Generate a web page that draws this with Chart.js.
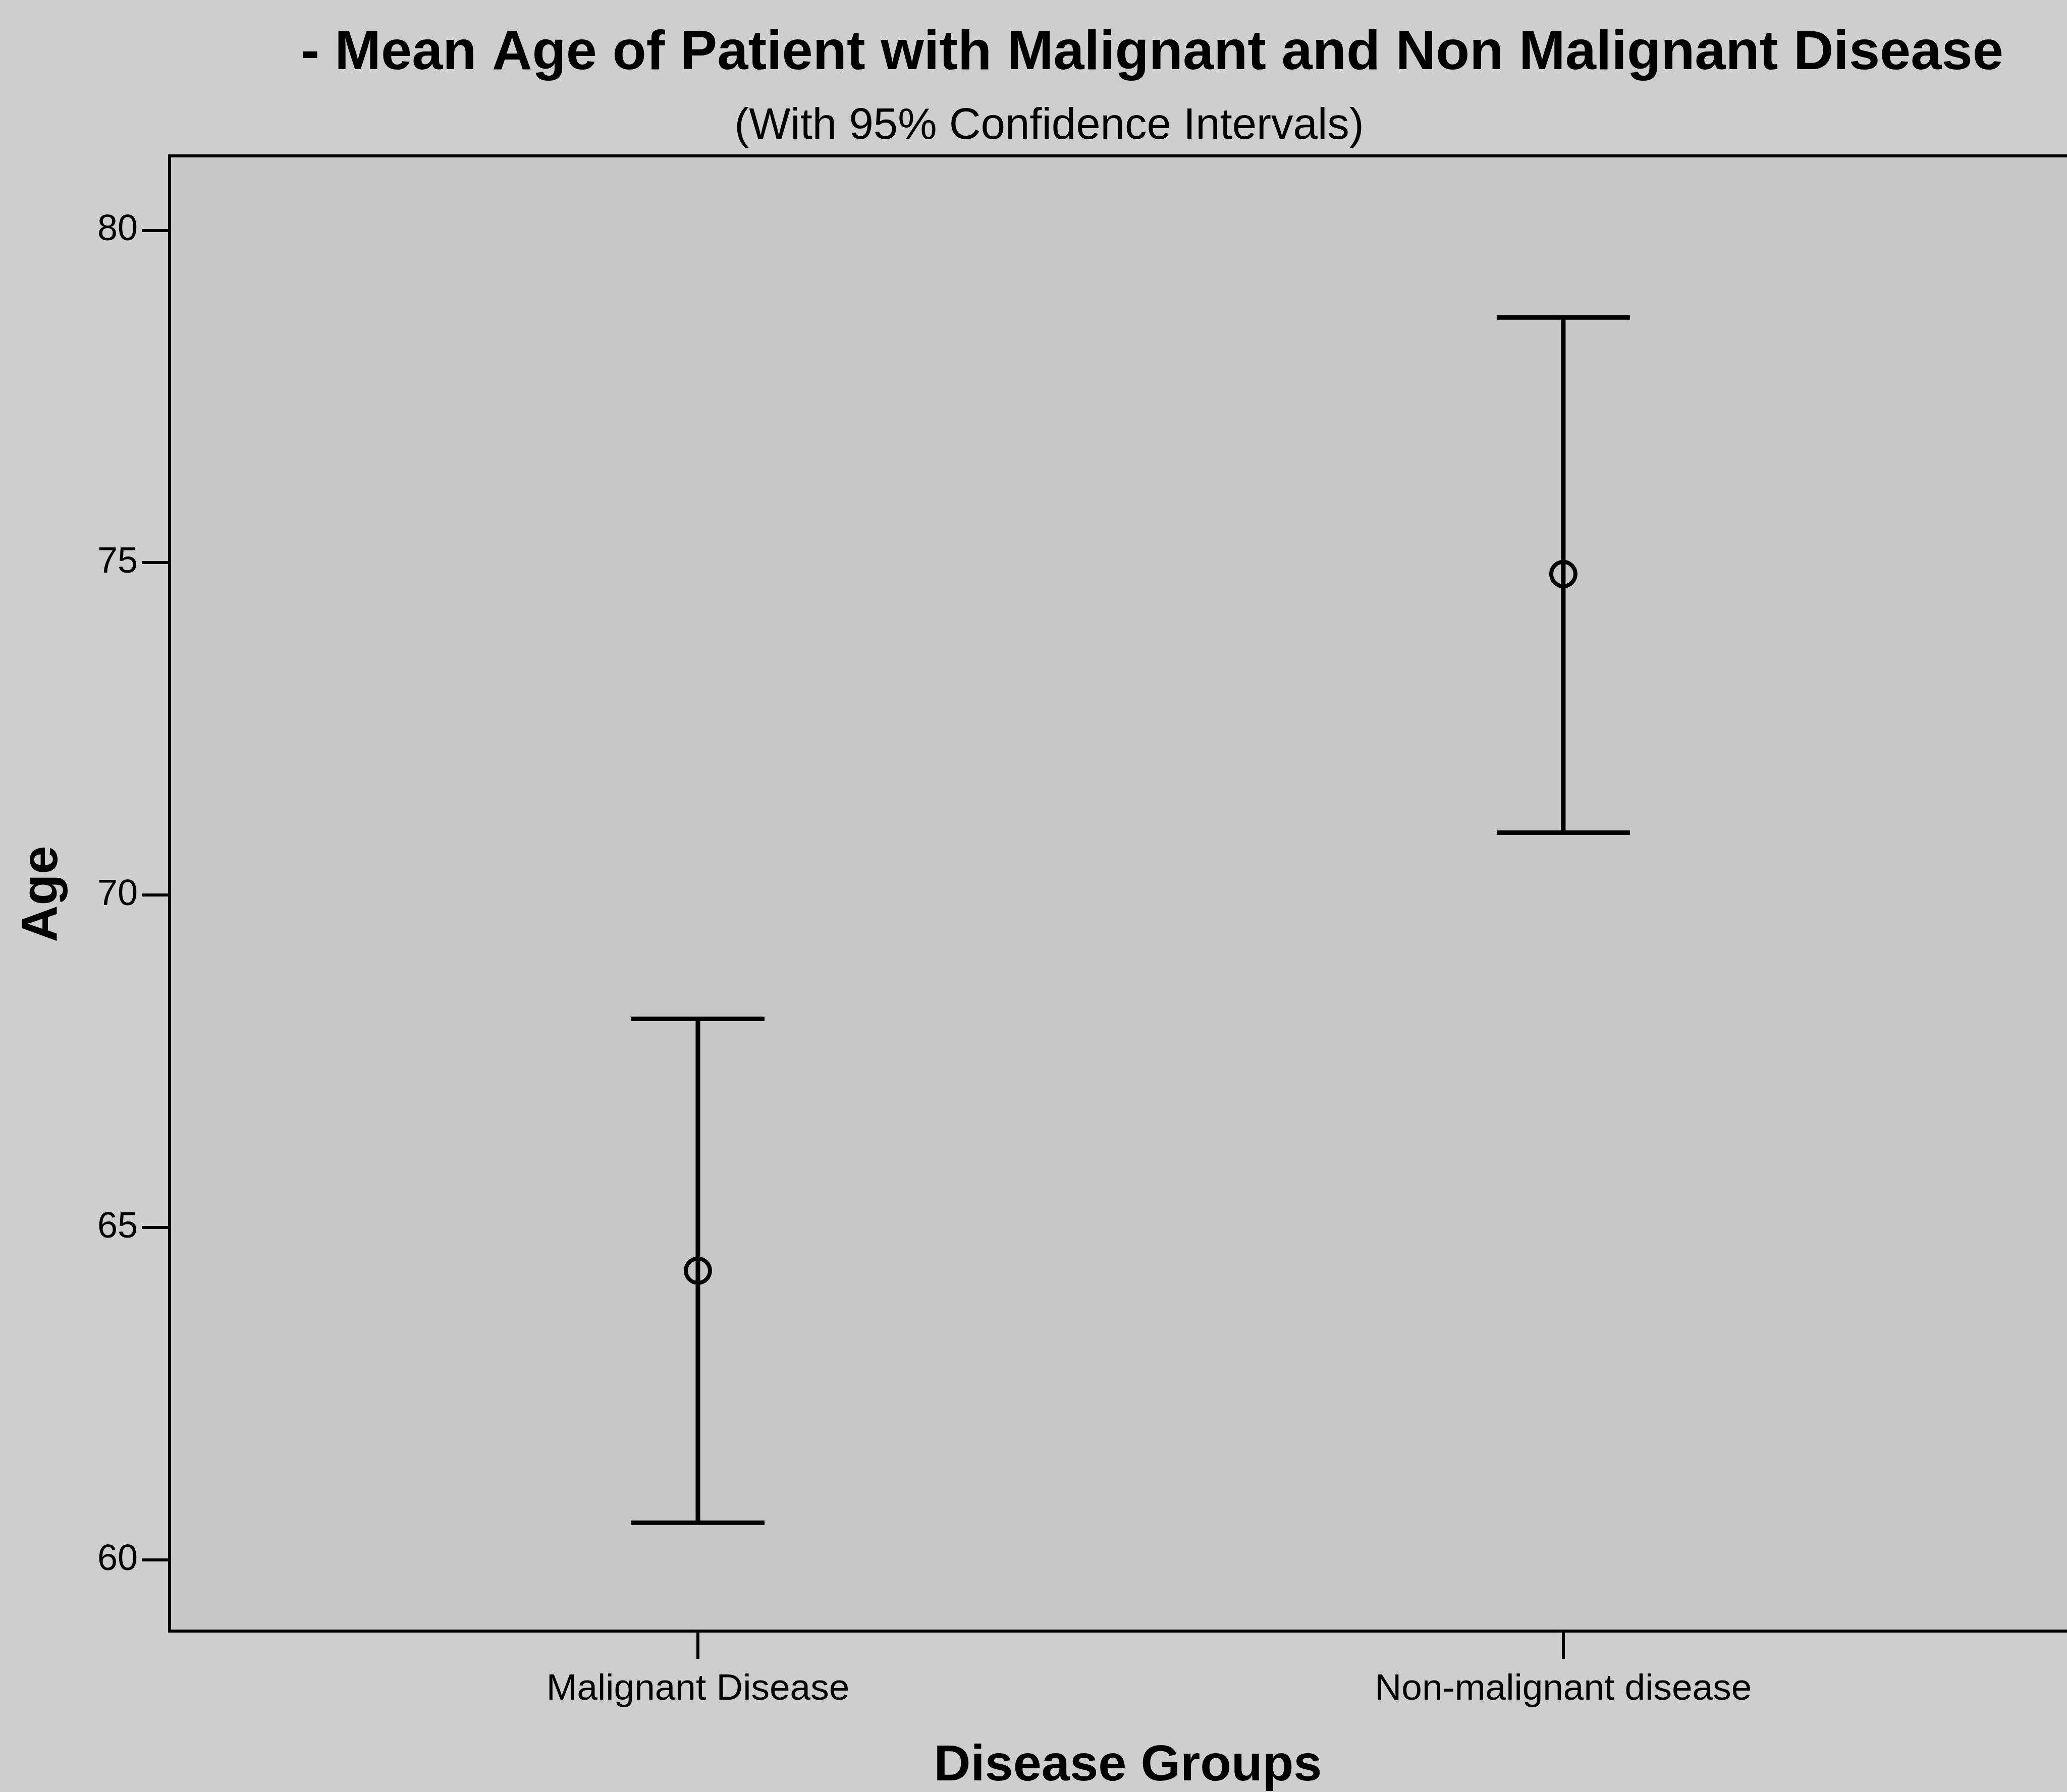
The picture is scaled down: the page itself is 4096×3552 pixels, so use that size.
<!DOCTYPE html>
<html>
<head>
<meta charset="utf-8">
<title>Mean Age of Patient with Malignant and Non Malignant Disease</title>
<script src="https://cdn.jsdelivr.net/npm/chart.js@4.4.1/dist/chart.umd.min.js"></script>
<style>
    html, body { margin: 0; padding: 0; background: #cecece; }
    #wrap { width: 4096px; height: 3552px; }
</style>
</head>
<body>
<div id="wrap"><canvas id="ciChart" width="4096" height="3552"></canvas></div>
<script>
// Chart data
const groups = ['Malignant Disease', 'Non-malignant disease'];
const meanAge = [64.35, 74.83];
const lowerCI = [60.56, 70.94];
const upperCI = [68.14, 78.69];
const ageTicks = [60, 65, 70, 75, 80];

const FONT = '"Liberation Sans", Arial, Helvetica, sans-serif';

// background + top border of the plot frame
const frame = {
    id: 'frame',
    beforeDraw(chart) {
        const { ctx, chartArea: a } = chart;
        ctx.save();
        ctx.fillStyle = '#cecece';
        ctx.fillRect(0, 0, chart.width, chart.height);
        ctx.fillStyle = '#c7c7c7';
        ctx.fillRect(a.left, a.top, a.right - a.left, a.bottom - a.top);
        ctx.strokeStyle = '#000';
        ctx.lineWidth = 6;
        ctx.beginPath();
        ctx.moveTo(a.left, a.top);
        ctx.lineTo(a.right, a.top);
        ctx.stroke();
        ctx.restore();
    }
};

// whiskers with caps, drawn through the scales
const errorBars = {
    id: 'errorBars',
    beforeDatasetsDraw(chart) {
        const { ctx, scales: { x, y } } = chart;
        const capHalf = 132;
        ctx.save();
        ctx.strokeStyle = '#000';
        ctx.lineWidth = 9;
        groups.forEach((g, i) => {
            const px = x.getPixelForValue(i + 1);
            const top = y.getPixelForValue(upperCI[i]);
            const bot = y.getPixelForValue(lowerCI[i]);
            ctx.beginPath();
            ctx.moveTo(px, top);
            ctx.lineTo(px, bot);
            ctx.moveTo(px - capHalf, top);
            ctx.lineTo(px + capHalf, top);
            ctx.moveTo(px - capHalf, bot);
            ctx.lineTo(px + capHalf, bot);
            ctx.stroke();
        });
        ctx.restore();
    }
};

// titles placed like the original figure
const texts = {
    id: 'texts',
    afterDraw(chart) {
        const { ctx } = chart;
        ctx.save();
        ctx.fillStyle = '#000';
        ctx.textAlign = 'center';
        ctx.textBaseline = 'alphabetic';

        ctx.font = 'bold 110px ' + FONT;
        ctx.fillText('- Mean Age of Patient with Malignant and Non Malignant Disease', 2283, 137);

        ctx.font = '87px ' + FONT;
        ctx.fillText('(With 95% Confidence Intervals)', 2079, 275);

        ctx.font = 'bold 101px ' + FONT;
        ctx.fillText('Disease Groups', 2235, 3529);

        ctx.translate(113, 1772);
        ctx.rotate(-Math.PI / 2);
        ctx.fillText('Age', 0, 0);
        ctx.restore();
    }
};

document.addEventListener('DOMContentLoaded', function () {
    const ctx = document.getElementById('ciChart').getContext('2d');

    new Chart(ctx, {
        type: 'scatter',
        data: {
            datasets: [{
                label: 'Mean age',
                data: meanAge.map((v, i) => ({ x: i + 1, y: v })),
                pointStyle: 'circle',
                pointRadius: 24,
                pointHoverRadius: 24,
                borderWidth: 8,
                borderColor: '#000',
                backgroundColor: 'rgba(0,0,0,0)'
            }]
        },
        options: {
            responsive: false,
            animation: false,
            devicePixelRatio: 1,
            layout: {
                autoPadding: false,
                padding: { top: 309, left: 0, right: 0, bottom: 0 }
            },
            plugins: {
                legend: { display: false },
                tooltip: { enabled: false }
            },
            scales: {
                x: {
                    type: 'linear',
                    min: 0.3895,
                    max: 2.582,
                    afterFit: s => {
                        s.height = 319;
                        s.paddingLeft = 0;
                        s.paddingRight = 0;
                    },
                    afterBuildTicks: s => { s.ticks = groups.map((g, i) => ({ value: i + 1 })); },
                    grid: { drawOnChartArea: false, drawTicks: true, tickLength: 55, color: '#000', lineWidth: 6 },
                    border: { display: true, color: '#000', width: 6 },
                    ticks: {
                        padding: 17,
                        color: '#000',
                        font: { family: FONT, size: 73 },
                        maxRotation: 0,
                        callback: v => groups[v - 1] || ''
                    }
                },
                y: {
                    min: 58.93,
                    max: 81.12,
                    afterFit: s => {
                        s.width = 336;
                        s.paddingTop = 0;
                        s.paddingBottom = 0;
                    },
                    afterBuildTicks: s => { s.ticks = ageTicks.map(v => ({ value: v })); },
                    grid: { drawOnChartArea: false, drawTicks: true, tickLength: 55, color: '#000', lineWidth: 6 },
                    border: { display: true, color: '#000', width: 6 },
                    ticks: {
                        padding: 8,
                        color: '#000',
                        font: { family: FONT, size: 72 },
                        callback: v => String(v)
                    }
                }
            }
        },
        plugins: [frame, errorBars, texts]
    });
});
</script>
</body>
</html>
